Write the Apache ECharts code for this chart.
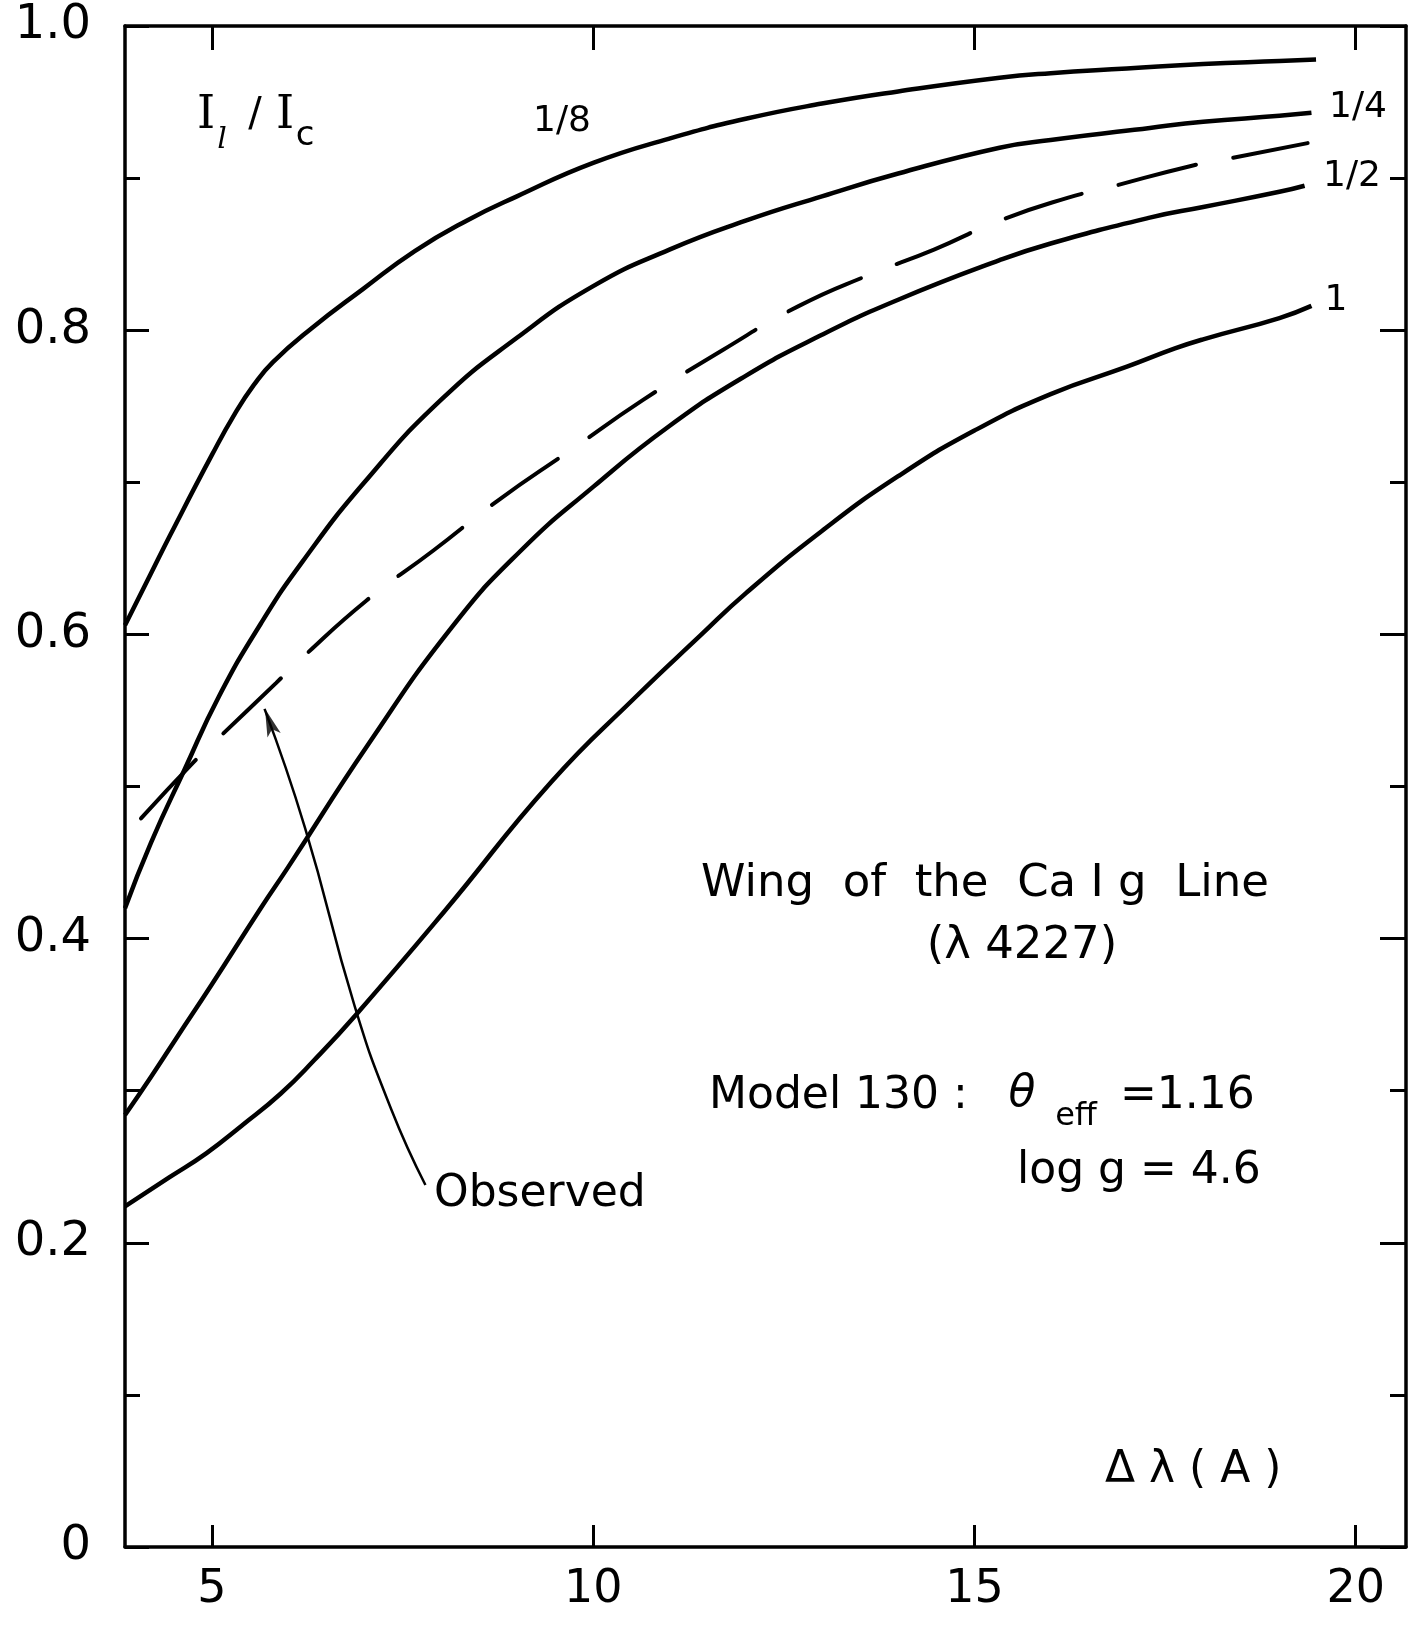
<!DOCTYPE html>
<html>
<head>
<meta charset="utf-8">
<script src="https://cdn.jsdelivr.net/npm/echarts@6/dist/echarts.min.js"></script>
<style>
html,body{margin:0;padding:0;background:#fff;}
#main{width:1410px;height:1627px;}
</style>
</head>
<body>
<div id="main"></div>
<script>
// ---- axis definitions ----
const X_MIN = 3.86, X_MAX = 20.66;
const X_TICKS = [5, 10, 15, 20];
const Y_MIN = 0, Y_MAX = 1.0;

// ---- curve 1/8 ----
const X_EIGHTH = [3.86, 4.2, 4.46, 5.0, 5.3, 5.55, 5.8, 6.3, 6.98, 7.66, 8.34, 9.0, 10, 11, 12, 13, 14, 15.33, 16, 17, 18, 19, 19.48];
const Y_EIGHTH = [0.606, 0.640, 0.666, 0.718, 0.745, 0.764, 0.779, 0.801, 0.827, 0.852, 0.872, 0.888, 0.910, 0.926, 0.939, 0.949, 0.957, 0.966, 0.969, 0.972, 0.975, 0.977, 0.978];
// ---- curve 1/4 ----
const X_QUARTER = [3.86, 4.2, 4.64, 5.09, 5.64, 6.19, 7, 8, 9, 10, 11, 12, 13, 14, 15.33, 16, 17.3, 18, 19, 19.42];
const Y_QUARTER = [0.420, 0.463, 0.511, 0.559, 0.607, 0.648, 0.700, 0.754, 0.795, 0.829, 0.853, 0.872, 0.888, 0.903, 0.920, 0.925, 0.933, 0.937, 0.941, 0.943];
// ---- curve 1/2 ----
const X_HALF = [3.86, 4.2, 4.54, 5.0, 5.64, 6.0, 7.04, 8.15, 9.05, 10, 11, 12, 13, 14, 15.33, 16, 17.3, 18, 19, 19.33];
const Y_HALF = [0.284, 0.309, 0.335, 0.370, 0.420, 0.447, 0.527, 0.605, 0.655, 0.697, 0.737, 0.770, 0.797, 0.820, 0.846, 0.857, 0.874, 0.881, 0.891, 0.895];
// ---- curve 1 ----
const X_ONE = [3.86, 4.44, 4.93, 5.39, 5.9, 6.34, 6.89, 8.05, 9.45, 10.56, 11.4, 12, 13, 14, 15, 16, 17, 17.63, 18, 19, 19.42];
const Y_ONE = [0.224, 0.243, 0.259, 0.277, 0.298, 0.320, 0.350, 0.418, 0.503, 0.559, 0.599, 0.627, 0.668, 0.704, 0.734, 0.758, 0.776, 0.788, 0.794, 0.808, 0.816];
// ---- observed (dashed) ----
const X_OBS = [4.07, 4.76, 5.09, 5.84, 6.17, 7.02, 7.90, 8.75, 9.7, 10.65, 11.7, 12.7, 13.6, 14.47, 15.33, 16.22, 16.77, 17.84, 18.35, 19.37];
const Y_OBS = [0.479, 0.516, 0.532, 0.568, 0.584, 0.622, 0.655, 0.688, 0.721, 0.754, 0.787, 0.816, 0.836, 0.853, 0.872, 0.887, 0.894, 0.908, 0.913, 0.923];
// ---- annotation arrow (from "Observed" label to the dashed curve) ----
const X_ARROW = [7.80, 7.35, 6.87, 6.22, 5.69];
const Y_ARROW = [0.238, 0.288, 0.356, 0.473, 0.551];

const zip = (xs, ys) => xs.map((x, i) => [x, ys[i]]);

const FONT = "'DejaVu Sans', 'Liberation Sans', sans-serif";
const SERIF = "'DejaVu Serif', 'Liberation Serif', serif";

const chart = echarts.init(document.getElementById('main'), null, {renderer: 'canvas'});

const axisLineStyle = {color: '#000', width: 3.5};
const curveStyle = {color: '#000', width: 4.5};

function yFmt(v) {
  const r = Math.round(v * 10);
  if (r === 0) return '0';
  if (r === 10) return '1.0';
  return (r / 10).toFixed(1);
}

function txt(text, x, y, size, opts) {
  opts = opts || {};
  return {
    type: 'text', x: x, y: y, silent: true,
    style: {
      text: text,
      font: (opts.style || 'normal') + ' ' + size + 'px ' + (opts.family || FONT),
      fill: '#000',
      textAlign: opts.align || 'left', align: opts.align || 'left',
      textVerticalAlign: 'middle', verticalAlign: 'middle'
    }
  };
}

const lineSeries = (name, xs, ys, extra) => Object.assign({
  name: name, type: 'line', data: zip(xs, ys), symbol: 'none',
  smooth: 0.5, lineStyle: curveStyle, silent: true,
  clip: false, z: 3
}, extra || {});

const option = {
  backgroundColor: '#fff',
  animation: false,
  grid: {left: 125, right: 4, top: 26, bottom: 80, containLabel: false},
  xAxis: [
    {
      type: 'value', min: X_MIN, max: X_MAX, position: 'bottom',
      axisLine: {show: true, onZero: false, lineStyle: axisLineStyle},
      axisTick: {show: true, inside: true, length: 22, customValues: X_TICKS, lineStyle: {color: '#000', width: 3}},
      axisLabel: {show: true, customValues: X_TICKS, color: '#000', fontSize: 46, fontFamily: FONT, margin: 20},
      splitLine: {show: false}
    },
    {
      type: 'value', min: X_MIN, max: X_MAX, position: 'top',
      axisLine: {show: true, onZero: false, lineStyle: axisLineStyle},
      axisTick: {show: true, inside: true, length: 24, customValues: X_TICKS, lineStyle: {color: '#000', width: 3}},
      axisLabel: {show: false},
      splitLine: {show: false}
    }
  ],
  yAxis: [
    {
      type: 'value', min: Y_MIN, max: Y_MAX, interval: 0.2, position: 'left',
      axisLine: {show: true, onZero: false, lineStyle: axisLineStyle},
      axisTick: {show: true, inside: true, length: 24, lineStyle: {color: '#000', width: 3}},
      minorTick: {show: true, splitNumber: 2, length: 15, lineStyle: {color: '#000', width: 3}},
      axisLabel: {show: true, color: '#000', fontSize: 48, fontFamily: FONT, margin: 34, formatter: yFmt},
      splitLine: {show: false}, minorSplitLine: {show: false}
    },
    {
      type: 'value', min: Y_MIN, max: Y_MAX, interval: 0.2, position: 'right',
      axisLine: {show: true, onZero: false, lineStyle: axisLineStyle},
      axisTick: {show: true, inside: true, length: 26, lineStyle: {color: '#000', width: 3}},
      minorTick: {show: true, splitNumber: 2, length: 16, lineStyle: {color: '#000', width: 3}},
      axisLabel: {show: false},
      splitLine: {show: false}, minorSplitLine: {show: false}
    }
  ],
  series: [
    lineSeries('1/8', X_EIGHTH, Y_EIGHTH),
    lineSeries('1/4', X_QUARTER, Y_QUARTER),
    lineSeries('1/2', X_HALF, Y_HALF),
    lineSeries('1', X_ONE, Y_ONE),
    lineSeries('Observed', X_OBS, Y_OBS, {lineStyle: {color: '#000', width: 4, type: [80, 38], cap: 'round'}}),
    lineSeries('arrow', X_ARROW, Y_ARROW, {smooth: 0.5, lineStyle: {color: '#000', width: 2.5}}),
    {
      name: 'arrowhead', type: 'scatter', silent: true, z: 4,
      data: [[X_ARROW[X_ARROW.length - 1], Y_ARROW[Y_ARROW.length - 1]]],
      symbol: 'path://M5,0 L10,22 L5,17 L0,22 Z', symbolSize: [14, 28], symbolRotate: 19,
      symbolOffset: [5, 13],
      itemStyle: {color: '#000'}
    }
  ],
  graphic: [
    // ordinate label I_l / I_c
    txt('I', 206, 116, 46, {family: SERIF, align: 'center'}),
    txt('l', 222, 140, 30, {family: SERIF, style: 'italic', align: 'center'}),
    txt('/', 255, 116, 40, {align: 'center'}),
    txt('I', 285, 116, 46, {family: SERIF, align: 'center'}),
    txt('c', 305, 136, 34, {align: 'center'}),
    // curve labels
    txt('1/8', 562, 122, 36, {align: 'center'}),
    txt('1/4', 1358, 108, 36, {align: 'center'}),
    txt('1/2', 1352, 177, 36, {align: 'center'}),
    txt('1', 1336, 301, 36, {align: 'center'}),
    // annotations
    txt('Wing  of  the  Ca I g  Line', 985, 884, 45, {align: 'center'}),
    txt('(λ 4227)', 1022, 946, 45, {align: 'center'}),
    txt('Model 130 :', 709, 1097, 44),
    txt('θ', 1022, 1095, 44, {style: 'italic', align: 'center'}),
    txt('eff', 1076, 1117, 32, {align: 'center'}),
    txt('=1.16', 1120, 1097, 44),
    txt('log g = 4.6', 1017, 1172, 44),
    txt('Observed', 434, 1195, 44),
    txt('Δ λ ( A )', 1105, 1471, 44)
  ]
};

chart.setOption(option);
</script>
</body>
</html>
